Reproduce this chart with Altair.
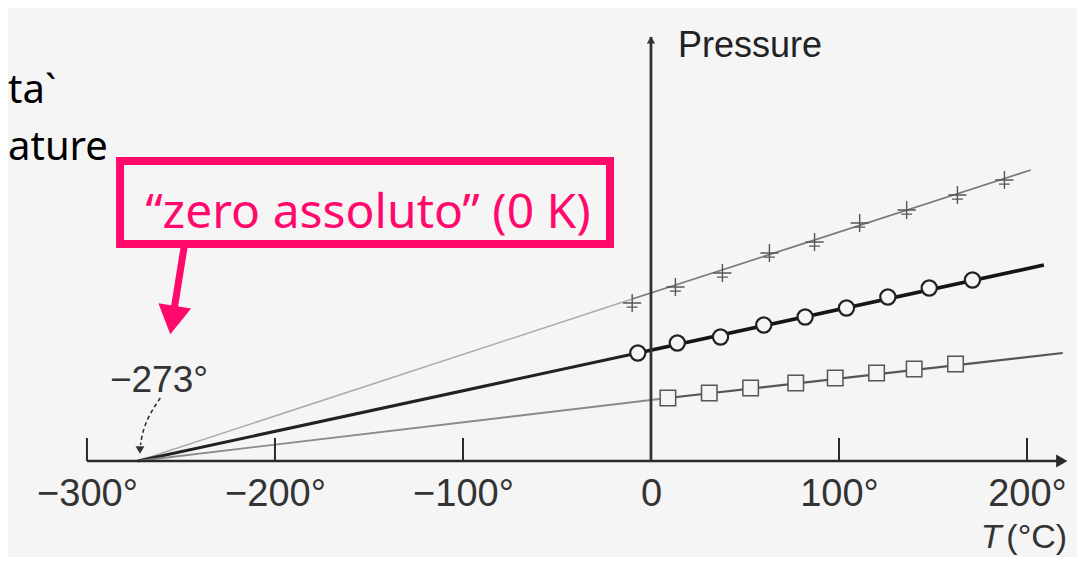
import altair as alt
import pandas as pd

# ---- values (T in °C, pressure in arbitrary units) ----
cross_T = [-10, 13, 38, 63, 87, 111, 136, 163, 188]
cross_P = [158, 174, 188, 208, 219, 238, 251, 266, 281]
circle_T = [-7, 14, 37, 60, 82, 104, 126, 148, 171]
circle_P = [108, 118, 124, 136, 144, 153, 164, 173, 181]
square_T = [9, 31, 53, 77, 98, 120, 140, 162]
square_P = [63, 68, 73, 78, 83, 88, 92, 97]

# straight lines: absolute zero -> start of measured range -> end of line
fit_T = {"top": [-273, -10, 202], "mid": [-273, -7, 209], "low": [-273, 9, 219]}
fit_P = {"top": [0, 162, 291], "mid": [0, 108, 196], "low": [0, 63, 108]}

tick_values = [-300, -200, -100, 0, 100, 200]
up_ticks = [-300, -200, -100, 100, 200]

# annotation anchors (data units)
zero_label_T, zero_label_P = -287.8, 69
curve_T = [-261, -267, -270.5, -271.5]
curve_P = [63, 46, 29, 16]
box_T = [-282.4, -21.8]
box_P = [217, 300]
box_text = "\u201czero assoluto\u201d (0 K)"
box_text_T, box_text_P = -150.5, 233
pink_arrow_T = [-247.9, -253.7]
pink_arrow_P = [219, 151]
pink_head_T, pink_head_P = -254.5, 141

PINK = "#ff0a6c"
BG = "#f5f5f5"
INK = "#2a2a2a"

xs = alt.Scale(domain=[-342.0, 226.6], nice=False, zero=False)
ys = alt.Scale(domain=[0, 453], nice=False, zero=False)

xaxis = alt.Axis(
    values=tick_values, domain=False, ticks=False, tickSize=0, grid=False,
    labelFont="Liberation Sans", labelFontSize=38, labelColor="#333333",
    labelPadding=14, labelFlush=False, labelOverlap=False,
    labelExpr="datum.value == 0 ? '0' : format(datum.value, 'd') + '\u00b0'",
)


def X(f="T"):
    return alt.X(f"{f}:Q", scale=xs, axis=xaxis, title="")


def Y(f="P"):
    return alt.Y(f"{f}:Q", scale=ys, axis=None)


# line table
rows = []
for s in ["top", "mid", "low"]:
    Ts, Ps = fit_T[s], fit_P[s]
    rows += [dict(series=s, seg="ext", T=Ts[0], P=Ps[0], o=0),
             dict(series=s, seg="ext", T=Ts[1], P=Ps[1], o=1),
             dict(series=s, seg="meas", T=Ts[1], P=Ps[1], o=0),
             dict(series=s, seg="meas", T=Ts[2], P=Ps[2], o=1)]
lines = pd.DataFrame(rows)

line_styles = {
    ("top", "ext"): ("#ababab", 1.5),
    ("top", "meas"): ("#7a7a7a", 1.8),
    ("mid", "ext"): ("#222222", 3.0),
    ("mid", "meas"): ("#151515", 3.6),
    ("low", "ext"): ("#8a8a8a", 1.8),
    ("low", "meas"): ("#555555", 2.2),
}

layers = []
for (s, seg), (col, w) in line_styles.items():
    layers.append(
        alt.Chart(lines).transform_filter(
            (alt.datum.series == s) & (alt.datum.seg == seg)
        ).mark_line(color=col, strokeWidth=w).encode(x=X(), y=Y(), order="o:Q")
    )

# axes drawn as rules
axis_df = pd.DataFrame({"T": [-300], "T2": [216], "P": [0]})
layers.append(alt.Chart(axis_df).mark_rule(color=INK, strokeWidth=2.6).encode(
    x=X(), x2="T2:Q", y=Y()))
yaxis_df = pd.DataFrame({"T": [0], "P": [0], "P2": [424]})
layers.append(alt.Chart(yaxis_df).mark_rule(color="#333333", strokeWidth=2.8).encode(
    x=X(), y=Y(), y2="P2:Q"))
tick_df = pd.DataFrame({"T": up_ticks, "P": [0] * len(up_ticks), "P2": [23] * len(up_ticks)})
layers.append(alt.Chart(tick_df).mark_rule(color=INK, strokeWidth=2).encode(
    x=X(), y=Y(), y2="P2:Q"))
layers.append(alt.Chart(pd.DataFrame({"T": [218.5], "P": [0]})).mark_point(
    shape="triangle-right", filled=True, color=INK, size=170, opacity=1).encode(x=X(), y=Y()))
layers.append(alt.Chart(pd.DataFrame({"T": [0], "P": [421]})).mark_point(
    shape="triangle-up", filled=True, color="#333333", size=70, opacity=1).encode(x=X(), y=Y()))

# measured points
layers.append(alt.Chart(pd.DataFrame({"T": cross_T, "P": cross_P})).mark_point(
    shape="M-1,0H1M0,-1V1M-0.6,0.45H0.6", filled=False, color="#555555", strokeWidth=1.4,
    size=330, opacity=1).encode(x=X(), y=Y()))
layers.append(alt.Chart(pd.DataFrame({"T": circle_T, "P": circle_P})).mark_point(
    shape="circle", filled=True, fill=BG, stroke="#222222", strokeWidth=2.2,
    size=230, opacity=1, fillOpacity=1).encode(x=X(), y=Y()))
layers.append(alt.Chart(pd.DataFrame({"T": square_T, "P": square_P})).mark_point(
    shape="square", filled=True, fill=BG, stroke="#555555", strokeWidth=1.5,
    size=240, opacity=1, fillOpacity=1).encode(x=X(), y=Y()))

# texts of the figure
layers.append(alt.Chart(pd.DataFrame({"T": [14.4], "P": [404], "t": ["Pressure"]})).mark_text(
    align="left", baseline="alphabetic", font="Liberation Sans", fontSize=36, color="#222222"
).encode(x=X(), y=Y(), text="t:N"))
layers.append(alt.Chart(pd.DataFrame({"T": [186.5], "P": [-87], "t": ["T"]})).mark_text(
    align="right", baseline="alphabetic", font="Liberation Sans", fontSize=34,
    fontStyle="italic", color="#333333").encode(x=X(), y=Y(), text="t:N"))
layers.append(alt.Chart(pd.DataFrame({"T": [189.0], "P": [-87], "t": ["(\u00b0C)"]})).mark_text(
    align="left", baseline="alphabetic", font="Liberation Sans", fontSize=34, color="#333333"
).encode(x=X(), y=Y(), text="t:N"))
layers.append(alt.Chart(pd.DataFrame({"T": [zero_label_T], "P": [zero_label_P], "t": ["\u2212273\u00b0"]})).mark_text(
    align="left", baseline="alphabetic", font="Liberation Sans", fontSize=37, color="#333333"
).encode(x=X(), y=Y(), text="t:N"))
layers.append(alt.Chart(pd.DataFrame({"T": curve_T, "P": curve_P, "o": list(range(len(curve_T)))})).mark_line(
    interpolate="basis", color="#333333", strokeWidth=1.6, strokeDash=[4, 3]
).encode(x=X(), y=Y(), order="o:Q"))
layers.append(alt.Chart(pd.DataFrame({"T": [-271.8], "P": [11]})).mark_point(
    shape="triangle-down", filled=True, color="#333333", size=80, opacity=1).encode(x=X(), y=Y()))

# slide overlay: pink box, arrow and partial black text
box_df = pd.DataFrame({"T": [box_T[0]], "T2": [box_T[1]], "P": [box_P[0]], "P2": [box_P[1]]})
layers.append(alt.Chart(box_df).mark_rect(fill="transparent", stroke=PINK, strokeWidth=8).encode(
    x=X(), x2="T2:Q", y=Y(), y2="P2:Q"))
layers.append(alt.Chart(pd.DataFrame({"T": [box_text_T], "P": [box_text_P], "t": [box_text]})).mark_text(
    align="center", baseline="alphabetic", font="Noto Sans", fontSize=48, color=PINK
).encode(x=X(), y=Y(), text="t:N"))
layers.append(alt.Chart(pd.DataFrame({"T": pink_arrow_T, "P": pink_arrow_P, "o": [0, 1]})).mark_line(
    color=PINK, strokeWidth=7).encode(x=X(), y=Y(), order="o:Q"))
layers.append(alt.Chart(pd.DataFrame({"T": [pink_head_T], "P": [pink_head_P]})).mark_point(
    shape="triangle-down", filled=True, color=PINK, size=1100, angle=9, opacity=1).encode(x=X(), y=Y()))
layers.append(alt.Chart(pd.DataFrame({"T": [-342, -342], "P": [358, 301], "t": ["ta`", "ature"]})).mark_text(
    align="left", baseline="alphabetic", font="Noto Sans", fontSize=40, color="#000000"
).encode(x=X(), y=Y(), text="t:N"))

chart = alt.layer(*layers).properties(
    width=1069, height=453,
    autosize=alt.AutoSizeParams(type="none"),
    padding={"left": 0, "top": 0, "right": 0, "bottom": 96},
    background=BG,
).configure_view(stroke=None, strokeWidth=0)

chart.save("out.html", embed_options={"renderer": "svg", "actions": False})
